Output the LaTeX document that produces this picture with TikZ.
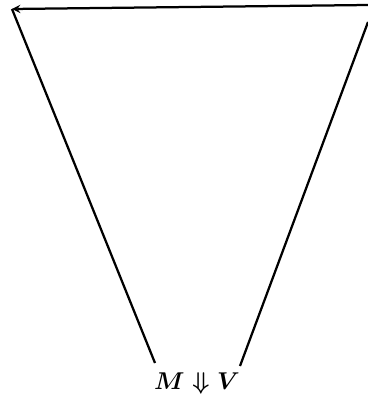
\documentclass[tikz,border=0pt]{standalone}
\begin{document}
\begin{tikzpicture}[x=0.025cm, y=-0.025cm]
			% Frame of the picture
			\useasboundingbox (0,0) rectangle (367,406);
			
			% Define parameters
			\def\lw{1.6pt} % Stroke width
			
			% Corner points
			\coordinate (topleft) at (12,9);
			\coordinate (topright) at (368,5);
			\coordinate (rightend) at (368,22);
			
			% Judgement label
			\node[font=\fontsize{18.5}{22}\selectfont\boldmath] (mv) at (197,383) {$M \Downarrow V$};
			\coordinate (leftfoot) at (155,363);
			\coordinate (rightfoot) at (240,366);
			
			% Top edge with arrow
			\draw[-stealth, line width=\lw] (topright) -- (topleft);
			
			% Side edges
			\draw[line width=\lw] (topleft) -- (leftfoot);
			\draw[line width=\lw] (rightfoot) -- (rightend);
			
\end{tikzpicture}
\end{document}
